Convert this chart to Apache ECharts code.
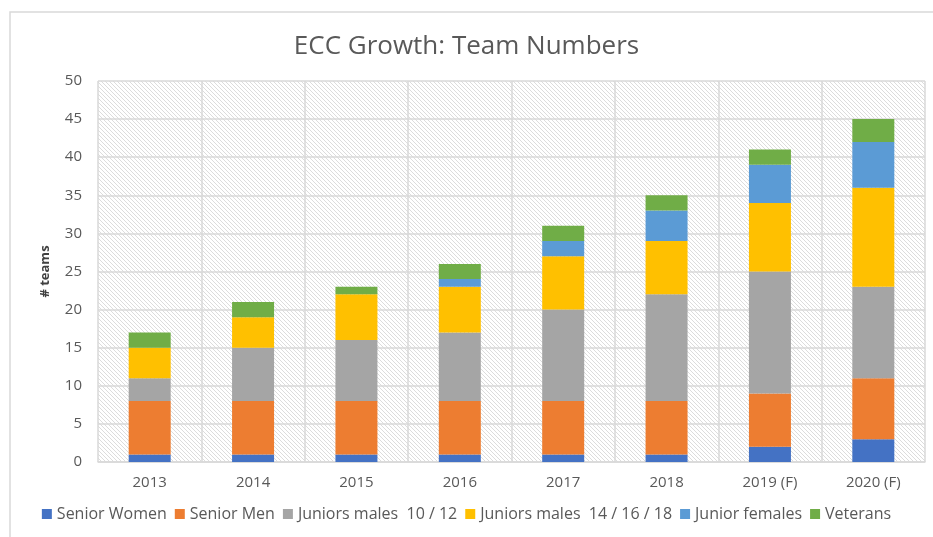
<!DOCTYPE html>
<html>
<head>
<meta charset="utf-8">
<script src="https://cdn.jsdelivr.net/npm/echarts@6/dist/echarts.min.js"></script>
<style>
  html, body { margin: 0; padding: 0; background: #fff; }
  #chart { width: 933px; height: 537px; }
</style>
</head>
<body>
<div id="chart"></div>
<script>
const years = ["2013", "2014", "2015", "2016", "2017", "2018", "2019 (F)", "2020 (F)"];
const seniorWomen = [1, 1, 1, 1, 1, 1, 2, 3];
const seniorMen = [7, 7, 7, 7, 7, 7, 7, 8];
const juniors1012 = [3, 7, 8, 9, 12, 14, 16, 12];
const juniors141618 = [4, 4, 6, 6, 7, 7, 9, 13];
const juniorFemales = [0, 0, 0, 1, 2, 4, 5, 6];
const veterans = [2, 2, 1, 2, 2, 2, 2, 3];

const textColor = "#595959";
const font = '"Open Sans", "Noto Sans", sans-serif';

// hatch fill for the plot area
function hatch() {
  const c = document.createElement("canvas");
  c.width = 4;
  c.height = 4;
  const ctx = c.getContext("2d");
  ctx.fillStyle = "#ffffff";
  ctx.fillRect(0, 0, 4, 4);
  ctx.fillStyle = "#dcdcdc";
  for (let i = 0; i < 4; i++) ctx.fillRect(i, i, 1, 1);
  return c;
}

const chart = echarts.init(document.getElementById("chart"));

function bar(name, data, color) {
  return {
    name,
    type: "bar",
    stack: "teams",
    data,
    barWidth: 42,
    itemStyle: { color },
  };
}

chart.setOption({
  animation: false,
  backgroundColor: "#fff",
  textStyle: { fontFamily: font },
  graphic: [
    {
      type: "rect",
      shape: { x: 10, y: 12, width: 940, height: 540 },
      style: { fill: "none", stroke: "#d9d9d9", lineWidth: 1.5 },
      silent: true,
    },
  ],
  title: {
    text: "ECC Growth: Team Numbers",
    left: "center",
    top: 29,
    textStyle: { color: textColor, fontSize: 26, fontWeight: "normal", fontFamily: font },
  },
  legend: {
    bottom: 10,
    left: "center",
    itemWidth: 10,
    itemHeight: 10,
    itemGap: 8,
    icon: "rect",
    textStyle: { color: textColor, fontSize: 16, fontFamily: font },
    data: ["Senior Women", "Senior Men", "Juniors males  10 / 12", "Juniors males  14 / 16 / 18", "Junior females", "Veterans"],
  },
  grid: {
    left: 98,
    right: 8,
    top: 81,
    bottom: 75,
    show: true,
    borderWidth: 0,
    backgroundColor: { image: hatch(), repeat: "repeat" },
  },
  xAxis: {
    type: "category",
    data: years,
    axisLine: { lineStyle: { color: "#d9d9d9", width: 1.5 } },
    axisTick: { show: false },
    axisLabel: { color: textColor, fontSize: 15, margin: 13, fontFamily: font },
    splitLine: { show: true, lineStyle: { color: "#d9d9d9", width: 1.5 } },
  },
  yAxis: {
    type: "value",
    min: 0,
    max: 50,
    interval: 5,
    name: "# teams",
    nameLocation: "middle",
    nameGap: 46,
    nameTextStyle: { color: "#404040", fontSize: 13, fontWeight: "bold", fontFamily: font },
    axisLine: { show: false },
    axisTick: { show: false },
    axisLabel: { color: textColor, fontSize: 15, margin: 16, fontFamily: font },
    splitLine: { lineStyle: { color: "#d9d9d9", width: 1.5 } },
  },
  series: [
    bar("Senior Women", seniorWomen, "#4472C4"),
    bar("Senior Men", seniorMen, "#ED7D31"),
    bar("Juniors males  10 / 12", juniors1012, "#A5A5A5"),
    bar("Juniors males  14 / 16 / 18", juniors141618, "#FFC000"),
    bar("Junior females", juniorFemales, "#5B9BD5"),
    bar("Veterans", veterans, "#70AD47"),
  ],
});
</script>
</body>
</html>
